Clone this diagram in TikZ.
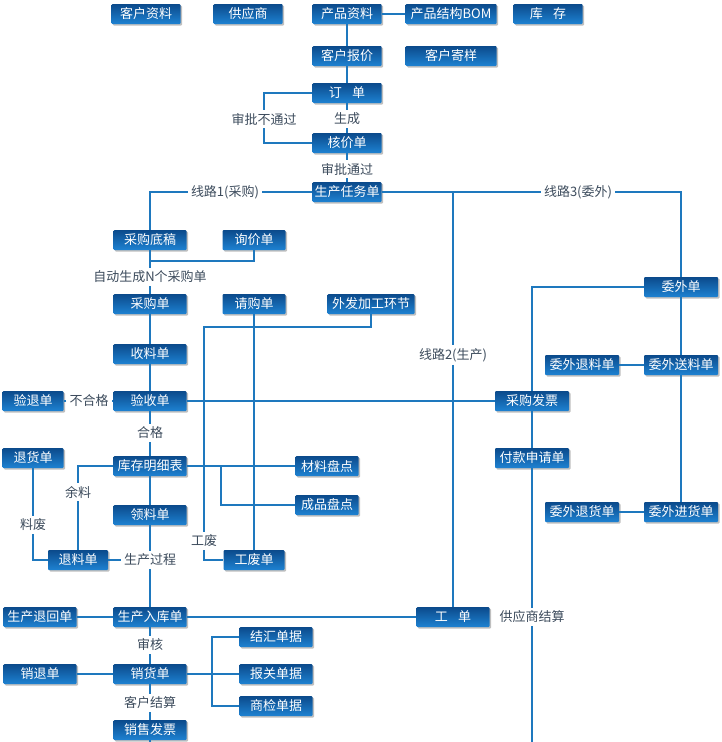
\documentclass[tikz,border=0pt]{standalone}
\usepackage{fontspec}
\setmainfont{Noto Sans CJK SC}
\usetikzlibrary{shadows}
\definecolor{boxtop}{HTML}{0B4A8B}
\definecolor{boxbot}{HTML}{1E82D2}
\definecolor{wireblue}{HTML}{1E78BE}
\definecolor{labtext}{HTML}{3C4B5C}
\tikzset{
  blk/.style={rectangle, rounded corners=1pt, top color=boxtop, bottom color=boxbot,
    text=white, font=\fontsize{13}{13}\selectfont, minimum width=73pt,
    minimum height=20pt, inner sep=0pt,
    drop shadow={shadow xshift=1.5pt, shadow yshift=-1.5pt, fill=black, opacity=0.25}},
  lab/.style={text=labtext, font=\fontsize{13}{13}\selectfont, inner sep=3pt},
  wire/.style={draw=wireblue, line width=2.6pt}
}
\begin{document}
\begin{tikzpicture}[x=1pt,y=-1pt]
	\fill [white] (0,0) rectangle (721,742);
	\useasboundingbox (0,0) rectangle (721,742);
	%
	\node [blk, minimum width=69pt] (custinfo) at (146,14) {客户资料};
	\node [blk, minimum width=69pt] (supplier) at (248,14) {供应商};
	\node [blk, minimum width=69pt] (product) at (347,14) {产品资料};
	\node [blk, minimum width=91pt] (bom) at (451,14) {产品结构BOM};
	\node [blk, minimum width=69pt] (stock) at (548,14) {库\hspace{0.8em}存};
	\node [blk, minimum width=69pt] (quote) at (347,56) {客户报价};
	\node [blk, minimum width=91pt] (sample) at (451,56) {客户寄样};
	\node [blk, minimum width=69pt] (order) at (347,93) {订\hspace{0.8em}单};
	\node [blk, minimum width=69pt] (pricecheck) at (347,143) {核价单};
	\node [blk, minimum width=69pt] (task) at (347,192) {生产任务单};
	\node [lab] (reject) at (264,119) {审批不通过};
	\node [lab] (gen) at (347,119) {生成};
	\node [lab] (pass) at (347,169) {审批通过};
	\node [lab] (route1) at (225,192) {线路1(采购)};
	\node [lab] (route3) at (578,192) {线路3(委外)};
	\node [lab] (route2) at (453,355) {线路2(生产)};
	\coordinate (r2top) at (453,192);
	%
	\node [blk] (purdraft) at (150,240) {采购底稿};
	\node [blk, minimum width=63pt] (inquiry) at (254,240) {询价单};
	\node [lab] (autogen) at (150,277) {自动生成N个采购单};
	\coordinate (join1) at (150,261);
	\node [blk] (purorder) at (150,304) {采购单};
	\node [blk, minimum width=63pt] (requisition) at (254,304) {请购单};
	\node [blk, minimum width=87pt] (outproc) at (371,304) {外发加工环节};
	\coordinate (bend1) at (204,327);
	\node [blk] (receive) at (150,354) {收料单};
	\node [blk] (inspect) at (150,401) {验收单};
	\node [blk, minimum width=61pt] (rejret) at (33,401) {验退单};
	\node [lab] (fail) at (89,401) {不合格};
	\node [lab] (ok) at (150,433) {合格};
	\node [blk] (stockdetail) at (150,466) {库存明细表};
	\node [blk, minimum width=63pt] (matcount) at (327,466) {材料盘点};
	\node [blk, minimum width=63pt] (prodcount) at (327,505) {成品盘点};
	\coordinate (split1) at (221,466);
	\node [blk, minimum width=61pt] (retgoods) at (33,458) {退货单};
	\node [lab] (leftover) at (78,492) {余料};
	\node [lab] (scrapmat) at (33,525) {料废};
	\node [blk, minimum width=60pt] (matreturn) at (78,560) {退料单};
	\node [blk] (picking) at (150,515) {领料单};
	\node [lab] (process) at (150,560) {生产过程};
	\node [lab] (scraplab) at (204,541) {工废};
	\node [blk, minimum width=61pt] (scrap) at (254,560) {工废单};
	%
	\node [blk] (prodin) at (150,617) {生产入库单};
	\node [blk] (prodback) at (40,617) {生产退回单};
	\node [blk] (workorder) at (453,617) {工\hspace{0.8em}单};
	\node [lab] (audit) at (150,645) {审核};
	\node [blk] (sales) at (150,674) {销货单};
	\node [blk] (salesret) at (40,674) {销退单};
	\node [blk] (fx) at (276,637) {结汇单据};
	\node [blk] (customs) at (276,674) {报关单据};
	\node [blk] (inspdoc) at (276,706) {商检单据};
	\coordinate (split2) at (212,674);
	\node [lab] (custsettle) at (150,703) {客户结算};
	\node [blk] (salesinv) at (150,730) {销售发票};
	\coordinate (bottom1) at (150,742);
	%
	\node [blk, minimum width=74pt] (outorder) at (681,287) {委外单};
	\node [blk, minimum width=74pt] (outsend) at (681,365) {委外送料单};
	\node [blk, minimum width=74pt] (outretmat) at (582,365) {委外退料单};
	\node [blk, minimum width=74pt] (outin) at (681,512) {委外进货单};
	\node [blk, minimum width=74pt] (outretgoods) at (582,512) {委外退货单};
	\node [blk, minimum width=74pt] (invoice) at (532,401) {采购发票};
	\node [blk, minimum width=74pt] (payreq) at (532,458) {付款申请单};
	\node [lab] (settle) at (532,617) {供应商结算};
	\coordinate (bottom2) at (532,742);
	%
	\draw [wire] (product.east) -- (bom.west);
	\draw [wire] (product) -- (quote);
	\draw [wire] (quote) -- (order);
	\draw [wire] (order.south) -- (gen.north);
	\draw [wire] (gen.south) -- (pricecheck.north);
	\draw [wire] (pricecheck.south) -- (pass.north);
	\draw [wire] (pass.south) -- (task.north);
	\draw [wire] (order.west) -| (reject.north);
	\draw [wire] (reject.south) |- (pricecheck.west);
	\draw [wire] (task.west) -- (route1.east);
	\draw [wire] (route1.west) -| (purdraft.north);
	\draw [wire] (task.east) -- (route3.west);
	\draw [wire] (route3.east) -| (outorder.north);
	\draw [wire] (r2top) -- (route2.north);
	\draw [wire] (route2.south) -- (workorder.north);
	%
	\draw [wire] (purdraft.south) -- (autogen.north);
	\draw [wire] (inquiry.south) |- (join1);
	\draw [wire] (autogen.south) -- (purorder.north);
	\draw [wire] (purorder) -- (receive);
	\draw [wire] (receive) -- (inspect);
	\draw [wire] (inspect.west) -- (fail.east);
	\draw [wire] (fail.west) -- (rejret.east);
	\draw [wire] (inspect.east) -- (invoice.west);
	\draw [wire] (inspect.south) -- (ok.north);
	\draw [wire] (ok.south) -- (stockdetail.north);
	\draw [wire] (stockdetail.east) -- (matcount.west);
	\draw [wire] (split1) |- (prodcount.west);
	\draw [wire] (stockdetail.west) -| (leftover.north);
	\draw [wire] (leftover.south) -- (matreturn.north);
	\draw [wire] (retgoods.south) -- (scrapmat.north);
	\draw [wire] (scrapmat.south) |- (matreturn.west);
	\draw [wire] (stockdetail.south) -- (picking.north);
	\draw [wire] (picking.south) -- (process.north);
	\draw [wire] (matreturn.east) -- (process.west);
	\draw [wire] (process.south) -- (prodin.north);
	\draw [wire] (outproc.south) |- (bend1) -- (scraplab.north);
	\draw [wire] (scraplab.south) |- (scrap.west);
	\draw [wire] (requisition.south) -- (scrap.north);
	%
	\draw [wire] (prodback.east) -- (prodin.west);
	\draw [wire] (prodin.east) -- (workorder.west);
	\draw [wire] (prodin.south) -- (audit.north);
	\draw [wire] (audit.south) -- (sales.north);
	\draw [wire] (salesret.east) -- (sales.west);
	\draw [wire] (sales.east) -- (customs.west);
	\draw [wire] (fx.west) -| (split2) |- (inspdoc.west);
	\draw [wire] (sales.south) -- (custsettle.north);
	\draw [wire] (custsettle.south) -- (salesinv.north);
	\draw [wire] (salesinv.south) -- (bottom1);
	%
	\draw [wire] (outorder.west) -| (invoice.north);
	\draw [wire] (invoice.south) -- (payreq.north);
	\draw [wire] (payreq.south) -- (settle.north);
	\draw [wire] (settle.south) -- (bottom2);
	\draw [wire] (outorder.south) -- (outsend.north);
	\draw [wire] (outsend.south) -- (outin.north);
	\draw [wire] (outretmat.east) -- (outsend.west);
	\draw [wire] (outretgoods.east) -- (outin.west);
\end{tikzpicture}
\end{document}
